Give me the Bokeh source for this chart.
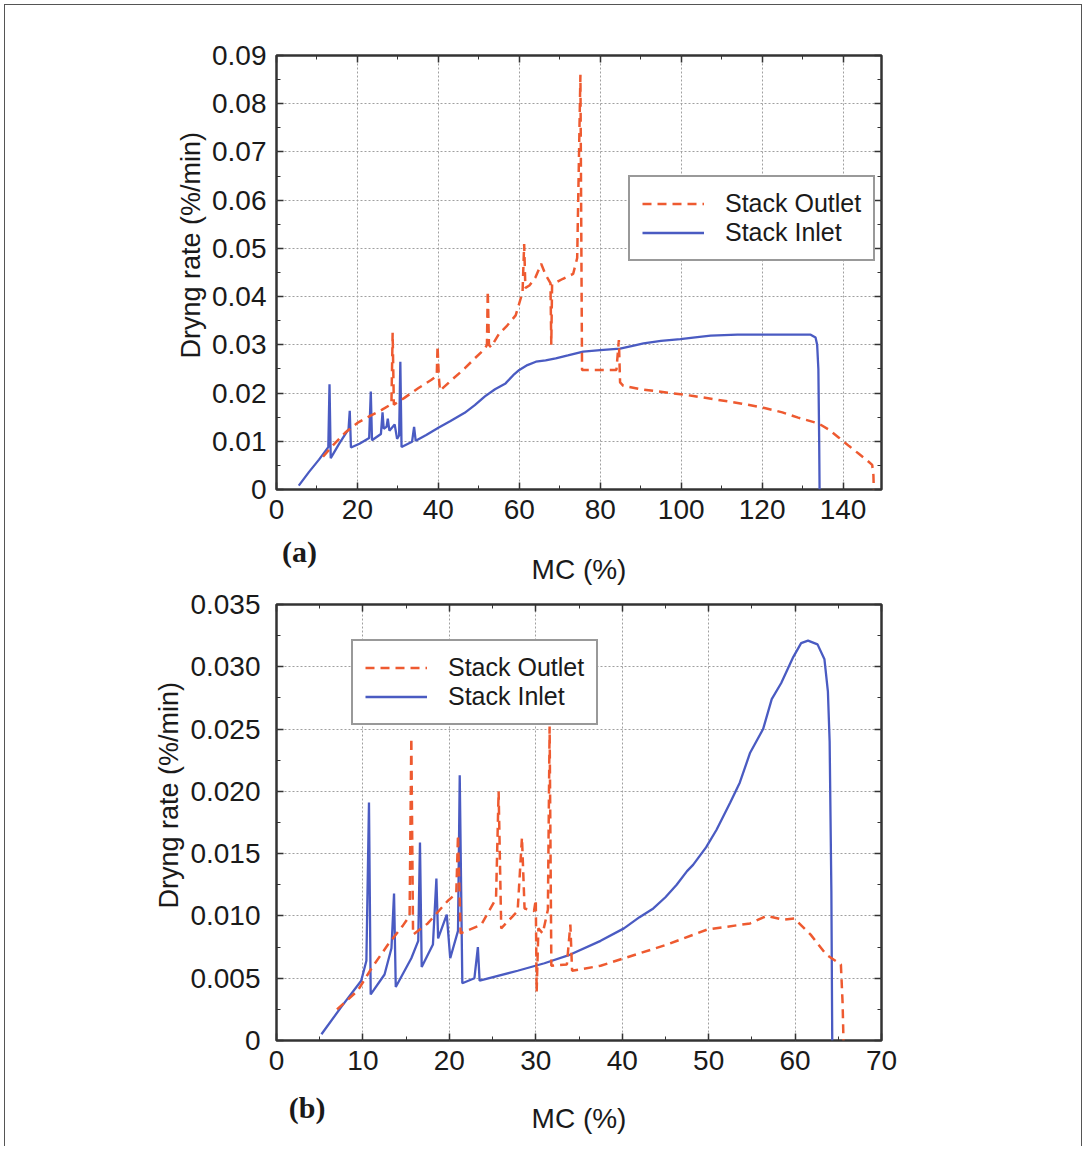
from bokeh.plotting import figure
from bokeh.models import (Legend, LegendItem, LinearAxis, FixedTicker, Range1d, Title,
                          CustomJSTickFormatter)
from bokeh.layouts import column
from bokeh.embed import file_html
from bokeh.resources import INLINE

# ---------------- data: panel (a) ----------------
a_inlet_mc = [5.5, 8.0, 10.5, 12.8, 13.1, 13.4, 15.5, 17.8, 18.1, 18.4, 20.5, 22.9, 23.3, 23.6,
              25.8, 26.2, 26.5, 27.2, 27.5, 27.9, 29.2, 29.8, 30.3, 30.6, 30.9, 33.5, 34.0, 34.4,
              37.0, 40.0, 43.0, 46.5, 49.0, 51.5, 54.0, 56.6, 58.5, 60.0, 62.0, 64.1, 66.5, 69.0,
              72.0, 75.8, 80.0, 84.9, 88.0, 90.7, 95.0, 99.8, 104.0, 107.3, 113.9, 120.0, 126.0,
              132.0, 133.2, 133.6, 133.9, 134.1, 134.2]
a_inlet_rate = [0.0008, 0.0036, 0.0062, 0.0088, 0.0218, 0.0065, 0.0095, 0.0125, 0.0163, 0.0087,
                0.0095, 0.0107, 0.0203, 0.0102, 0.0115, 0.0160, 0.0126, 0.0130, 0.0147, 0.0122,
                0.0135, 0.0105, 0.0112, 0.0265, 0.0088, 0.0099, 0.0130, 0.0101, 0.0113, 0.0128,
                0.0142, 0.0159, 0.0175, 0.0193, 0.0208, 0.0220, 0.0237, 0.0248, 0.0258, 0.0265,
                0.0268, 0.0272, 0.0278, 0.0286, 0.0289, 0.0292, 0.0298, 0.0303, 0.0308, 0.0312,
                0.0316, 0.0319, 0.0321, 0.0321, 0.0321, 0.0321, 0.0315, 0.0300, 0.0250, 0.0100, 0.0]

a_outlet_mc = [11.5, 14.0, 17.0, 20.0, 23.0, 26.0, 28.4, 28.7, 29.0, 31.6, 35.0, 38.2, 39.6, 39.8,
               40.1, 40.4, 43.0, 46.5, 49.0, 51.5, 52.0, 52.2, 52.5, 53.0, 55.0, 57.0, 59.1, 60.8,
               61.2, 61.5, 62.5, 64.0, 65.4, 66.5, 67.7, 67.9, 68.1, 70.8, 73.3, 74.3, 75.1, 75.5,
               79.0, 84.0, 84.6, 84.9, 85.7, 90.0, 97.4, 103.0, 109.0, 115.0, 120.6, 125.0, 128.9,
               133.9, 136.5, 138.9, 141.5, 143.9, 146.0, 147.2, 147.5, 147.6]
a_outlet_rate = [0.0068, 0.0092, 0.0118, 0.0138, 0.0152, 0.0165, 0.0177, 0.0325, 0.0176, 0.0190,
                 0.0210, 0.0227, 0.0236, 0.0298, 0.0235, 0.0205, 0.0225, 0.0251, 0.0272, 0.0292,
                 0.0300, 0.0412, 0.0300, 0.0295, 0.0323, 0.0340, 0.0361, 0.0409, 0.0509, 0.0418,
                 0.0423, 0.0440, 0.0468, 0.0445, 0.0428, 0.0300, 0.0425, 0.0437, 0.0447, 0.0480,
                 0.0860, 0.0248, 0.0248, 0.0248, 0.0310, 0.0222, 0.0215, 0.0208, 0.0200, 0.0194,
                 0.0186, 0.0178, 0.0169, 0.0160, 0.0149, 0.0137, 0.0124, 0.0108, 0.0090, 0.0074,
                 0.0060, 0.0051, 0.0030, 0.0]

# ---------------- data: panel (b) ----------------
b_inlet_mc = [5.2, 7.5, 9.8, 10.4, 10.7, 10.9, 12.5, 13.3, 13.6, 13.8, 15.6, 16.4, 16.6, 16.8,
              18.1, 18.5, 18.7, 19.7, 20.1, 21.0, 21.2, 21.5, 22.9, 23.3, 23.5, 27.9, 31.0, 34.0,
              37.5, 40.2, 42.0, 43.6, 45.0, 46.3, 47.5, 48.2, 49.7, 50.9, 52.5, 53.6, 54.8, 56.3,
              57.3, 58.4, 59.8, 60.7, 61.5, 62.6, 63.4, 63.8, 64.0, 64.2, 64.3]
b_inlet_rate = [0.0005, 0.0027, 0.0048, 0.0064, 0.0191, 0.0037, 0.0053, 0.0074, 0.0118, 0.0043,
                0.0066, 0.0080, 0.0159, 0.0059, 0.0077, 0.0130, 0.0082, 0.0101, 0.0066, 0.0088,
                0.0213, 0.0046, 0.0050, 0.0075, 0.0048, 0.0056, 0.0062, 0.0069, 0.0080, 0.0090,
                0.0099, 0.0106, 0.0115, 0.0125, 0.0136, 0.0141, 0.0155, 0.0169, 0.0191, 0.0207,
                0.0231, 0.0250, 0.0274, 0.0287, 0.0308, 0.0319, 0.0321, 0.0318, 0.0306, 0.0280,
                0.0240, 0.0120, 0.0]

b_outlet_mc = [7.0, 9.4, 11.0, 12.9, 14.6, 15.4, 15.6, 15.8, 17.5, 19.8, 20.8, 21.0, 21.3, 23.7,
               25.4, 25.7, 26.0, 27.9, 28.4, 28.7, 29.8, 30.0, 30.1, 30.3, 30.8, 31.4, 31.6, 31.8,
               33.6, 34.0, 34.2, 37.5, 40.2, 45.2, 49.8, 54.8, 56.7, 58.6, 59.9, 61.8, 63.6, 65.3,
               65.5, 65.6]
b_outlet_rate = [0.0025, 0.0040, 0.0058, 0.0077, 0.0092, 0.0100, 0.0243, 0.0085, 0.0094, 0.0112,
                 0.0118, 0.0165, 0.0086, 0.0093, 0.0114, 0.0200, 0.0090, 0.0104, 0.0163, 0.0106,
                 0.0104, 0.0113, 0.0039, 0.0090, 0.0086, 0.0105, 0.0252, 0.0060, 0.0061, 0.0093,
                 0.0056, 0.0060, 0.0066, 0.0077, 0.0089, 0.0094, 0.0100, 0.0097, 0.0098, 0.0085,
                 0.0069, 0.0061, 0.0030, 0.0]

# ---------------- ticks and texts ----------------
a_x_ticks = [0, 20, 40, 60, 80, 100, 120, 140]
a_x_labels = ["0", "20", "40", "60", "80", "100", "120", "140"]
a_y_ticks = [0, 0.01, 0.02, 0.03, 0.04, 0.05, 0.06, 0.07, 0.08, 0.09]
a_y_labels = ["0", "0.01", "0.02", "0.03", "0.04", "0.05", "0.06", "0.07", "0.08", "0.09"]
b_x_ticks = [0, 10, 20, 30, 40, 50, 60, 70]
b_x_labels = ["0", "10", "20", "30", "40", "50", "60", "70"]
b_y_ticks = [0, 0.005, 0.010, 0.015, 0.020, 0.025, 0.030, 0.035]
b_y_labels = ["0", "0.005", "0.010", "0.015", "0.020", "0.025", "0.030", "0.035"]

series_names = ["Stack Outlet", "Stack Inlet"]
x_title = "MC (%)"
y_title = "Dryng rate (%/min)"

FONT = "Liberation Sans"
ORANGE = "#EE5A30"
BLUE = "#4A5BC2"
DARK = "#333333"
TXT = "#1a1a1a"


def mids(t):
    step = t[1] - t[0]
    return [v + step / 2 for v in t]


def tick_style(ax, ticker):
    ax.ticker = ticker
    ax.axis_line_color = None
    ax.major_tick_in = 7
    ax.major_tick_out = 0
    ax.minor_tick_in = 4
    ax.minor_tick_out = 0
    ax.major_tick_line_color = DARK
    ax.minor_tick_line_color = DARK
    ax.major_tick_line_width = 1.5


def make_panel(height, mbt, mbb, xr, yr, xt, xl, yt, yl, ystand,
               tag, tag_x, tag_stand, xt_stand, yt_offset):
    p = figure(width=1076, height=height, x_range=Range1d(*xr), y_range=Range1d(*yr),
               output_backend="svg", toolbar_location=None,
               min_border_left=271, min_border_right=200, min_border_top=mbt, min_border_bottom=mbb)
    p.background_fill_color = "white"
    p.border_fill_color = "white"
    p.outline_line_color = DARK
    p.outline_line_width = 2.5
    xtick = FixedTicker(ticks=xt, minor_ticks=mids(xt))
    ytick = FixedTicker(ticks=yt, minor_ticks=mids(yt))
    for ax, tk, ticks, labels, st in ((p.xaxis[0], xtick, xt, xl, 10), (p.yaxis[0], ytick, yt, yl, ystand)):
        tick_style(ax, tk)
        ax.major_label_overrides = dict(zip(ticks, labels))
        ax.major_label_text_font = FONT
        ax.major_label_text_font_size = "28px"
        ax.major_label_text_color = TXT
        ax.major_label_standoff = st
    # mirrored tick marks on top and right (no labels)
    for side, tk in (("above", xtick), ("right", ytick)):
        ax = LinearAxis(formatter=CustomJSTickFormatter(code="return ''"))
        tick_style(ax, tk)
        ax.major_label_text_font_size = "0px"
        ax.major_label_standoff = 0
        p.add_layout(ax, side)
    for g, tk in ((p.xgrid[0], xtick), (p.ygrid[0], ytick)):
        g.ticker = tk
        g.grid_line_color = "#a0a0a0"
        g.grid_line_dash = "2 2"
        g.grid_line_width = 1
    # panel tag "(a)"/"(b)" and x title under the tick labels
    lab = LinearAxis(ticker=FixedTicker(ticks=[tag_x]), major_label_overrides={tag_x: tag})
    lab.axis_line_color = None
    lab.major_tick_line_color = None
    lab.minor_tick_line_color = None
    lab.major_label_text_font = "Liberation Serif"
    lab.major_label_text_font_style = "bold"
    lab.major_label_text_font_size = "30px"
    lab.major_label_text_color = TXT
    lab.major_label_standoff = tag_stand
    lab.axis_label = x_title
    lab.axis_label_text_font = FONT
    lab.axis_label_text_font_style = "normal"
    lab.axis_label_text_font_size = "28px"
    lab.axis_label_text_color = TXT
    lab.axis_label_standoff = xt_stand
    p.add_layout(lab, "below")
    # y title
    p.add_layout(Title(text=y_title, align="left", offset=yt_offset, vertical_align="bottom",
                       standoff=7, text_font=FONT, text_font_size="27px", text_font_style="normal",
                       text_color=TXT), "left")
    return p


def add_series(p, in_mc, in_rate, out_mc, out_rate, loc):
    rb = p.line(in_mc, in_rate, line_color=BLUE, line_width=2.3)
    ro = p.line(out_mc, out_rate, line_color=ORANGE, line_width=2.5, line_dash="9 6")
    leg = Legend(items=[LegendItem(label=series_names[0], renderers=[ro]),
                        LegendItem(label=series_names[1], renderers=[rb])],
                 location=loc)
    leg.label_text_font = FONT
    leg.label_text_font_size = "25px"
    leg.label_text_color = TXT
    leg.glyph_width = 62
    leg.glyph_height = 27
    leg.label_height = 27
    leg.label_standoff = 21
    leg.padding = 12
    leg.spacing = 0
    leg.margin = 0
    leg.border_line_color = DARK
    leg.border_line_width = 2
    leg.background_fill_color = "white"
    leg.background_fill_alpha = 1.0
    p.add_layout(leg)


# panel (a): frame x 276..881, y 55..493
pa = make_panel(582, 50, 94, (0, 149.5), (0, 0.09), a_x_ticks, a_x_labels, a_y_ticks, a_y_labels,
                10, "(a)", 5.7, 7, -17, 131)
add_series(pa, a_inlet_mc, a_inlet_rate, a_outlet_mc, a_outlet_rate, (352, 228))

# panel (b): frame x 276..881, y 604..1040
pb = make_panel(559, 17, 106, (0, 70), (0, 0.035), b_x_ticks, b_x_labels, b_y_ticks, b_y_labels,
                16, "(b)", 3.55, 12, -24, 132)
add_series(pb, b_inlet_mc, b_inlet_rate, b_outlet_mc, b_outlet_rate, (75, 315))

layout = column(pa, pb, styles={"margin": "4px 0 0 4px",
                                "border-left": "1px solid #555555",
                                "border-top": "1px solid #555555",
                                "border-right": "1px solid #555555"})

open("out.html", "w").write(file_html(layout, INLINE))
